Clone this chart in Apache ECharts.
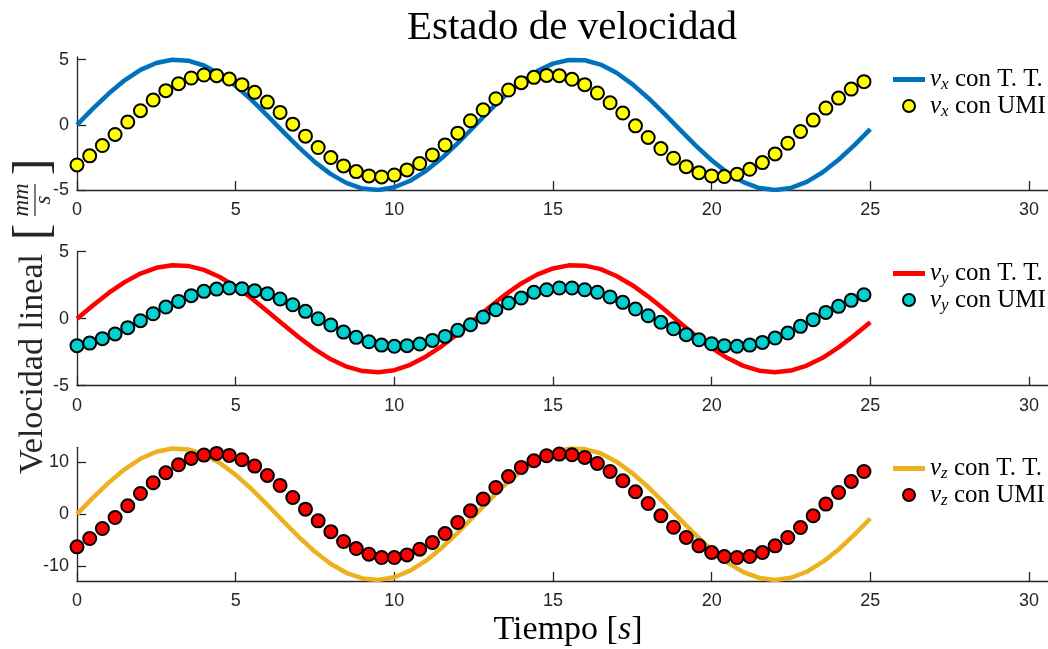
<!DOCTYPE html>
<html>
<head>
<meta charset="utf-8">
<script src="https://cdn.jsdelivr.net/npm/echarts@6/dist/echarts.min.js"></script>
<style>
  html, body { margin: 0; padding: 0; background: #fff; }
  #chart { width: 1048px; height: 649px; }
</style>
</head>
<body>
<div id="chart"></div>
<script>
// Time samples (s)
const tTT = [0,0.5,1,1.5,2,2.5,3,3.5,4,4.5,5,5.5,6,6.5,7,7.5,8,8.5,9,9.5,10,10.5,11,11.5,12,12.5,13,13.5,14,14.5,15,15.5,16,16.5,17,17.5,18,18.5,19,19.5,20,20.5,21,21.5,22,22.5,23,23.5,24,24.5,25];
const tUMI = [0,0.4,0.8,1.2,1.6,2,2.4,2.8,3.2,3.6,4,4.4,4.8,5.2,5.6,6,6.4,6.8,7.2,7.6,8,8.4,8.8,9.2,9.6,10,10.4,10.8,11.2,11.6,12,12.4,12.8,13.2,13.6,14,14.4,14.8,15.2,15.6,16,16.4,16.8,17.2,17.6,18,18.4,18.8,19.2,19.6,20,20.4,20.8,21.2,21.6,22,22.4,22.8,23.2,23.6,24,24.4,24.8];

// Velocity with T. T. (mm/s)
const vxTT = [0,1.24,2.40,3.41,4.21,4.74,4.99,4.92,4.55,3.89,2.99,1.91,0.71,-0.54,-1.75,-2.86,-3.78,-4.47,-4.89,-5.00,-4.79,-4.29,-3.53,-2.55,-1.40,-0.17,1.08,2.25,3.28,4.12,4.69,4.97,4.95,4.62,3.99,3.12,2.06,0.87,-0.37,-1.60,-2.72,-3.68,-4.40,-4.85,-5.00,-4.84,-4.38,-3.64,-2.68,-1.56,-0.33];
const vyTT = [0,0.99,1.92,2.73,3.37,3.80,3.99,3.94,3.64,3.11,2.39,1.53,0.56,-0.43,-1.40,-2.29,-3.03,-3.58,-3.91,-4.00,-3.84,-3.44,-2.82,-2.04,-1.12,-0.13,0.86,1.80,2.63,3.29,3.75,3.98,3.96,3.70,3.19,2.50,1.65,0.70,-0.30,-1.28,-2.18,-2.94,-3.52,-3.88,-4.00,-3.87,-3.50,-2.92,-2.14,-1.24,-0.26];
const vzTT = [0,3.11,6.04,8.59,10.60,11.96,12.56,12.40,11.45,9.80,7.53,4.81,1.78,-1.36,-4.42,-7.21,-9.54,-11.28,-12.32,-12.59,-12.08,-10.82,-8.90,-6.43,-3.52,-0.42,2.71,5.68,8.28,10.37,11.82,12.52,12.46,11.66,10.05,7.86,5.19,2.19,-0.95,-4.02,-6.85,-9.27,-11.09,-12.22,-12.60,-12.18,-11.03,-9.15,-6.77,-3.92,-0.83];

// Velocity with UMI (mm/s)
const vxUMI = [-3.08,-2.38,-1.59,-0.74,0.21,1.08,1.90,2.62,3.15,3.59,3.82,3.77,3.51,3.08,2.49,1.74,0.95,0.05,-0.87,-1.74,-2.51,-3.15,-3.59,-3.92,-4.00,-3.85,-3.46,-2.97,-2.31,-1.54,-0.64,0.31,1.15,2.00,2.67,3.23,3.64,3.79,3.77,3.49,3.08,2.44,1.69,0.90,-0.08,-0.97,-1.82,-2.56,-3.21,-3.67,-3.92,-3.97,-3.79,-3.41,-2.90,-2.23,-1.41,-0.51,0.36,1.28,2.05,2.74,3.31];
const vyUMI = [-2.01,-1.82,-1.49,-1.14,-0.67,-0.15,0.37,0.87,1.29,1.72,2.04,2.21,2.29,2.24,2.09,1.87,1.47,1.04,0.55,0.00,-0.47,-1.00,-1.39,-1.72,-1.97,-2.06,-2.01,-1.89,-1.62,-1.32,-0.87,-0.45,0.12,0.67,1.17,1.54,1.97,2.16,2.29,2.29,2.16,1.97,1.62,1.22,0.72,0.22,-0.27,-0.75,-1.19,-1.57,-1.87,-2.01,-2.06,-1.97,-1.77,-1.44,-1.07,-0.57,-0.07,0.47,0.92,1.37,1.79];
const vzUMI = [-6.26,-4.66,-2.75,-0.64,1.60,3.96,6.01,7.92,9.46,10.67,11.31,11.63,11.25,10.42,9.20,7.41,5.50,3.19,0.96,-1.28,-3.35,-5.24,-6.58,-7.67,-8.31,-8.31,-7.80,-6.71,-5.43,-3.71,-1.60,0.64,2.88,5.11,7.22,8.95,10.22,11.18,11.50,11.37,10.86,9.71,8.18,6.39,4.28,2.04,-0.32,-2.50,-4.47,-6.07,-7.35,-8.12,-8.31,-8.12,-7.35,-6.07,-4.47,-2.56,-0.32,1.92,4.15,6.26,8.18];

// Tick labels
const xTicks = [0, 5, 10, 15, 20, 25, 30];
const yTicksXY = [-5, 0, 5];
const yTicksZ = [-10, 0, 10];

const AX = '#262626';
const SERIF = 'Liberation Serif';
const SANS = 'Liberation Sans';

const pair = (xs, ys) => xs.map((x, i) => [x, ys[i]]);

const grids = [
  { left: 77, right: 0, top: 57, height: 133 },
  { left: 77, right: 0, top: 251.7, height: 134 },
  { left: 77, right: 0, top: 447.3, height: 133.7 }
];

function xAxisFor(i) {
  return {
    type: 'value', gridIndex: i, min: 0, max: 30.6,
    axisLine: { show: true, onZero: false, lineStyle: { color: AX, width: 1.3 } },
    axisTick: { show: true, inside: true, length: 9, customValues: xTicks, lineStyle: { color: AX, width: 1.3 } },
    axisLabel: { customValues: xTicks, color: AX, fontFamily: SANS, fontSize: 18, margin: 11 },
    splitLine: { show: false }
  };
}
function yAxisFor(i, min, max, ticks) {
  return {
    type: 'value', gridIndex: i, min: min, max: max,
    axisLine: { show: true, onZero: false, lineStyle: { color: AX, width: 1.3 } },
    axisTick: { show: true, inside: true, length: 9, customValues: ticks, lineStyle: { color: AX, width: 1.3 } },
    axisLabel: { customValues: ticks, color: AX, fontFamily: SANS, fontSize: 18, margin: 8 },
    splitLine: { show: false }
  };
}

function lineSeries(name, i, ys, color) {
  return {
    name: name, type: 'line', xAxisIndex: i, yAxisIndex: i,
    data: pair(tTT, ys), symbol: 'none', smooth: false,
    color: color, itemStyle: { color: color },
    lineStyle: { color: color, width: 4.5, join: 'round' }, z: 2
  };
}
function dotSeries(name, i, ys, color) {
  return {
    name: name, type: 'scatter', xAxisIndex: i, yAxisIndex: i,
    data: pair(tUMI, ys), symbol: 'circle', symbolSize: 13,
    itemStyle: { color: color, borderColor: '#000', borderWidth: 2, opacity: 1 }, z: 3
  };
}

const legendRich = {
  v: { fontFamily: SERIF, fontStyle: 'italic', fontSize: 25, lineHeight: 28, color: '#000' },
  s: { fontFamily: SERIF, fontStyle: 'italic', fontSize: 17, lineHeight: 17, verticalAlign: 'bottom', color: '#000' },
  t: { fontFamily: SERIF, fontSize: 25, lineHeight: 28, color: '#000' }
};
// Thick bar used as the legend key of the solid lines
const BAR_ICON = 'path://M0,0H32V5H0Z';
function legendFor(lineName, dotName, top) {
  return {
    data: [{ name: lineName, icon: BAR_ICON }, { name: dotName }],
    orient: 'vertical', left: 893, top: top,
    itemWidth: 32, itemHeight: 12, itemGap: 0, padding: 0,
    selectedMode: false, symbolKeepAspect: true,
    formatter: function (n) {
      const m = n.match(/^v(\w) (.*)$/);
      return '{v|v}{s|' + m[1] + '}{t| ' + m[2] + '}';
    },
    textStyle: { rich: legendRich }
  };
}

const option = {
  animation: false,
  backgroundColor: '#fff',
  title: {
    text: 'Estado de velocidad', left: 567, top: 3, textAlign: 'center',
    textStyle: { fontFamily: SERIF, fontSize: 41, fontWeight: 'normal', color: '#000' }
  },
  grid: grids,
  xAxis: [xAxisFor(0), xAxisFor(1), xAxisFor(2)],
  yAxis: [
    yAxisFor(0, -5, 5.2, yTicksXY),
    yAxisFor(1, -5, 5, yTicksXY),
    yAxisFor(2, -12.8, 12.8, yTicksZ)
  ],
  legend: [
    legendFor('vx con T. T.', 'vx con UMI', 67),
    legendFor('vy con T. T.', 'vy con UMI', 261),
    legendFor('vz con T. T.', 'vz con UMI', 456)
  ],
  series: [
    lineSeries('vx con T. T.', 0, vxTT, '#0072BD'),
    dotSeries('vx con UMI', 0, vxUMI, '#FFFF00'),
    lineSeries('vy con T. T.', 1, vyTT, '#FF0000'),
    dotSeries('vy con UMI', 1, vyUMI, '#00D0D0'),
    lineSeries('vz con T. T.', 2, vzTT, '#EDB120'),
    dotSeries('vz con UMI', 2, vzUMI, '#FF0000')
  ],
  graphic: [
    // x label
    {
      type: 'text', x: 568, y: 630,
      style: {
        text: '{n|Tiempo [}{i|s}{n|]}', textAlign: 'center', textVerticalAlign: 'middle',
        rich: {
          n: { fontFamily: SERIF, fontSize: 34, color: AX },
          i: { fontFamily: SERIF, fontStyle: 'italic', fontSize: 34, color: AX }
        }
      }
    },
    // y label, read bottom to top
    {
      type: 'text', x: 33, y: 364, rotation: Math.PI / 2,
      style: { text: 'Velocidad lineal', fontFamily: SERIF, fontSize: 34, fill: AX, textAlign: 'center', textVerticalAlign: 'middle' }
    },
    {
      type: 'text', x: 34, y: 232, rotation: Math.PI / 2,
      style: { text: '[', fontFamily: SERIF, fontSize: 50, fill: AX, textAlign: 'center', textVerticalAlign: 'middle' }
    },
    {
      type: 'text', x: 22, y: 200, rotation: Math.PI / 2,
      style: { text: 'mm', fontFamily: SERIF, fontStyle: 'italic', fontSize: 23, fill: AX, textAlign: 'center', textVerticalAlign: 'middle' }
    },
    {
      type: 'line', shape: { x1: 35, y1: 184, x2: 35, y2: 216 },
      style: { stroke: AX, lineWidth: 1.2 }
    },
    {
      type: 'text', x: 44, y: 200, rotation: Math.PI / 2,
      style: { text: 's', fontFamily: SERIF, fontStyle: 'italic', fontSize: 23, fill: AX, textAlign: 'center', textVerticalAlign: 'middle' }
    },
    {
      type: 'text', x: 34, y: 167, rotation: Math.PI / 2,
      style: { text: ']', fontFamily: SERIF, fontSize: 50, fill: AX, textAlign: 'center', textVerticalAlign: 'middle' }
    }
  ]
};

const chart = echarts.init(document.getElementById('chart'), null, { renderer: 'canvas' });
chart.setOption(option);
</script>
</body>
</html>
